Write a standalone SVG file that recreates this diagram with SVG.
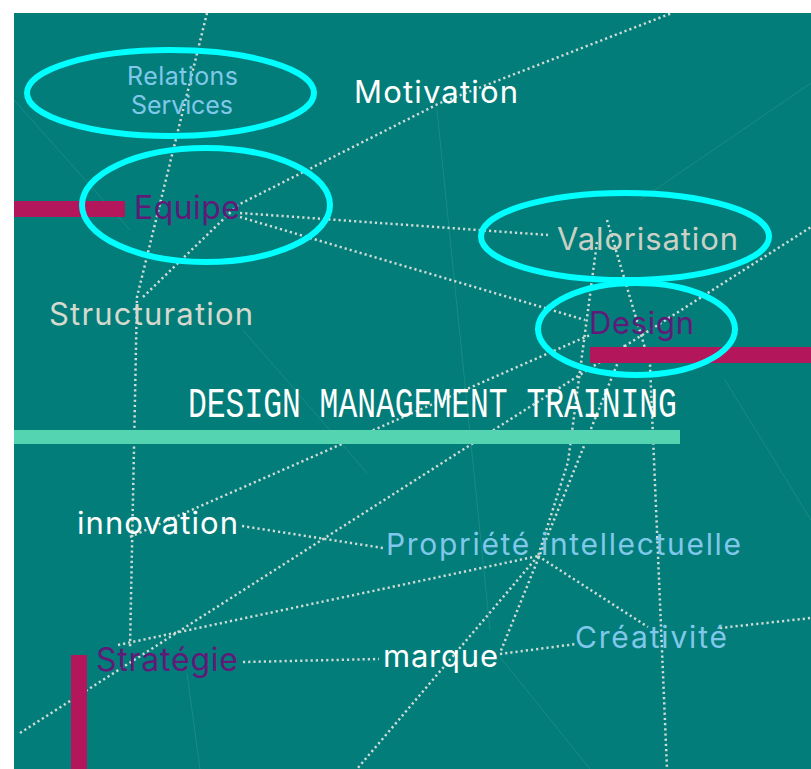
<svg xmlns="http://www.w3.org/2000/svg" width="811" height="769" viewBox="0 0 811 769">
<style>
.bg{fill:#027d7a}
.dot{fill:none;stroke:#cfdbd4;stroke-width:2.5;stroke-dasharray:2.2 3}
.faint{fill:none;stroke:#4aa49e;stroke-width:1;opacity:0.35}
.bar{fill:#b3165a}
.mint{fill:#55d4b1}
.lbl{font-family:Inter,"Liberation Sans",sans-serif}
.ring{fill:none;stroke:#00ffff;stroke-width:6}
.purple{fill:#601a78}
.blue{fill:#80c8ea}
.white{fill:#ffffff}
.grey{fill:#cbd0c6}
</style>
<rect width="811" height="769" fill="#ffffff"/>
<rect class="bg" x="14" y="13" width="797" height="756"/>
<g id="faint-lines">
<line class="faint" x1="437" y1="110" x2="490" y2="630"/>
<line class="faint" x1="500" y1="657" x2="590" y2="769"/>
<line class="faint" x1="725" y1="380" x2="811" y2="520"/>
<line class="faint" x1="187" y1="673" x2="200" y2="769"/>
<line class="faint" x1="811" y1="83" x2="640" y2="200"/>
<line class="faint" x1="243" y1="330" x2="367" y2="473"/>
<line class="faint" x1="14" y1="100" x2="130" y2="230"/>
</g>
<g id="connectors">
<polyline class="dot" points="207,13 137,297 130,648"/>
<polyline class="dot" points="143,297 238,205 440,103 672,13"/>
<line class="dot" x1="240" y1="213" x2="548" y2="235"/>
<line class="dot" x1="240" y1="217" x2="585" y2="320"/>
<line class="dot" x1="20" y1="733" x2="811" y2="227"/>
<line class="dot" x1="130" y1="537" x2="590" y2="335"/>
<line class="dot" x1="242" y1="526" x2="383" y2="548"/>
<line class="dot" x1="118" y1="645" x2="538" y2="556"/>
<polyline class="dot" points="597,242 568,462 538,556"/>
<line class="dot" x1="538" y1="556" x2="357" y2="769"/>
<line class="dot" x1="538" y1="556" x2="648" y2="627"/>
<line class="dot" x1="625" y1="345" x2="500" y2="653"/>
<polyline class="dot" points="607,220 650,365 667,769"/>
<line class="dot" x1="243" y1="662" x2="379" y2="659"/>
<line class="dot" x1="500" y1="654" x2="576" y2="644"/>
<line class="dot" x1="720" y1="628" x2="811" y2="618"/>
</g>
<g id="bars">
<rect class="bar" x="14" y="201" width="111" height="16"/>
<rect class="bar" x="590" y="347" width="221" height="16"/>
<rect class="bar" x="71" y="655" width="16" height="114"/>
<rect class="mint" x="14" y="430" width="666" height="14"/>
</g>
<g id="title">
<text transform="translate(188,417) scale(0.729,1)" x="0" y="0" font-family="'Liberation Mono',monospace" font-size="43" fill="#ffffff">DESIGN MANAGEMENT TRAINING</text>
</g>
<g id="node-relations">
<text class="lbl blue" x="127" y="85" font-size="25" textLength="111" lengthAdjust="spacing">Relations</text>
<text class="lbl blue" x="131" y="114" font-size="25" textLength="102" lengthAdjust="spacing">Services</text>
<ellipse class="ring" cx="170.5" cy="93" rx="143.5" ry="43"/>
</g>
<g id="node-motivation">
<text class="lbl white" x="354" y="103" font-size="31" textLength="164" lengthAdjust="spacing">Motivation</text>
</g>
<g id="node-equipe">
<text class="lbl purple" x="134" y="219" font-size="32" textLength="106" lengthAdjust="spacing">Equipe</text>
<ellipse class="ring" cx="206" cy="205" rx="124" ry="57"/>
</g>
<g id="node-valorisation">
<text class="lbl grey" x="557" y="250" font-size="31" textLength="181" lengthAdjust="spacing">Valorisation</text>
<ellipse class="ring" cx="625" cy="236.5" rx="144" ry="43.5"/>
</g>
<g id="node-design">
<text class="lbl purple" x="589" y="334" font-size="31" textLength="105" lengthAdjust="spacing">Design</text>
<ellipse class="ring" cx="636.5" cy="329" rx="98.5" ry="46"/>
</g>
<g id="node-structuration">
<text class="lbl" x="49" y="325" font-size="31" fill="#d6d9cd" textLength="204" lengthAdjust="spacing">Structuration</text>
</g>
<g id="node-innovation">
<text class="lbl white" x="77" y="534" font-size="31" textLength="161" lengthAdjust="spacing">innovation</text>
</g>
<g id="node-propriete">
<text class="lbl blue" x="386" y="555" font-size="30" textLength="355" lengthAdjust="spacing">Propriété intellectuelle</text>
</g>
<g id="node-strategie">
<text class="lbl purple" x="96" y="671" font-size="32" textLength="142" lengthAdjust="spacing">Stratégie</text>
</g>
<g id="node-marque">
<text class="lbl white" x="383" y="667" font-size="31" textLength="115" lengthAdjust="spacing">marque</text>
</g>
<g id="node-creativite">
<text class="lbl blue" x="575" y="648" font-size="30" textLength="152" lengthAdjust="spacing">Créativité</text>
</g>
</svg>
